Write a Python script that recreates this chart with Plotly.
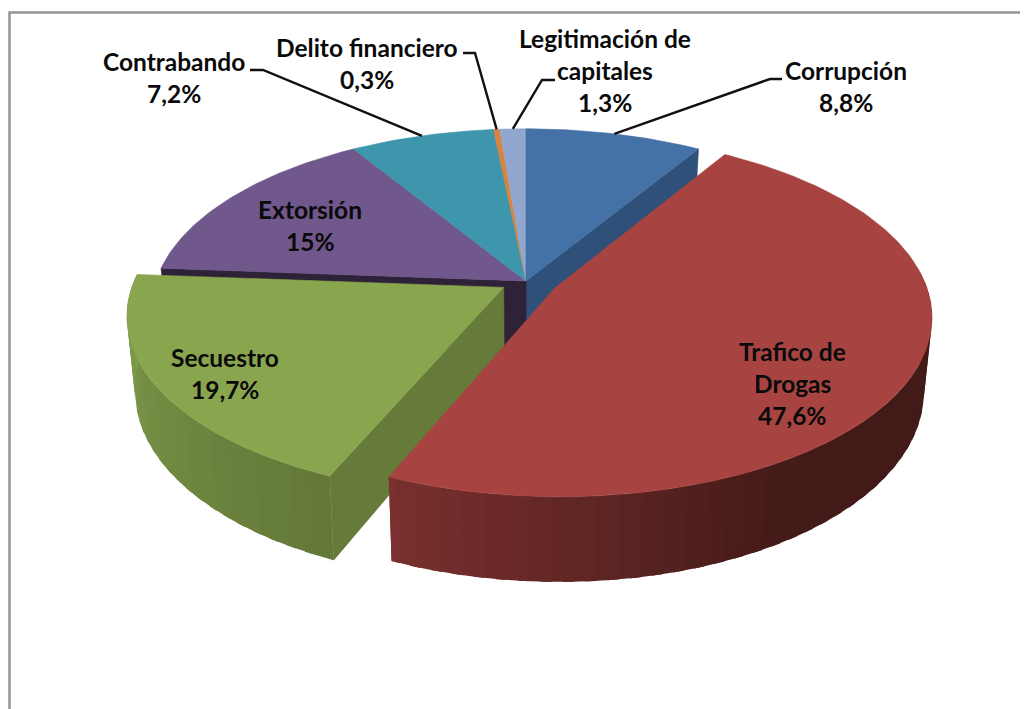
import math
import plotly.graph_objects as go

# ---- data ----
categories = ["Corrupción", "Trafico de Drogas", "Secuestro", "Extorsión",
              "Contrabando", "Delito financiero", "Legitimación de capitales"]
values = [8.8, 47.6, 19.7, 15, 7.2, 0.3, 1.3]
pulls = [0, 0.087, 0.07, 0, 0, 0, 0]
top_colors = ["#4471a6", "#a74442", "#89a54e", "#70578c", "#3e96ad", "#d8843c", "#92a7cf"]
wall_colors = ["#2f5078", None, "#667a3a", "#2e2238", None, None, None]
label_lines = [["Corrupción"], ["Trafico de", "Drogas"], ["Secuestro"], ["Extorsión"],
               ["Contrabando"], ["Delito financiero"], ["Legitimación de", "capitales"]]

# ---- projection of the tilted disc ----
CX, CY = 526, 281
A, B = 370, 175
K = 0.15
H = 72
BOTTOM_X = 0.98


def project(X, Z, bottom=False):
    s = 1 + K * Z
    x = A * X / s
    y = -B * Z / s
    if bottom:
        return CX + x * BOTTOM_X, CY + y + H / s
    return CX + x, CY + y


def unit(deg):
    r = math.radians(deg)
    return math.sin(r), math.cos(r)


starts, ends = [], []
acc = 0.0
total = sum(values)
for v in values:
    starts.append(acc / total * 360)
    acc += v
    ends.append(acc / total * 360)


def offset(i):
    ux, uz = unit((starts[i] + ends[i]) / 2)
    return ux * pulls[i], uz * pulls[i]


def rim(i, bottom=False, step=1.0):
    ox, oz = offset(i)
    n = max(2, int((ends[i] - starts[i]) / step))
    pts = []
    for j in range(n + 1):
        d = starts[i] + (ends[i] - starts[i]) * j / n
        ux, uz = unit(d)
        pts.append(project(ox + ux, oz + uz, bottom))
    return pts


fig = go.Figure()


def poly(pts, color, width=0.6):
    xs = [p[0] for p in pts] + [pts[0][0]]
    ys = [p[1] for p in pts] + [pts[0][1]]
    fig.add_trace(go.Scatter(x=xs, y=ys, mode="lines", fill="toself", fillcolor=color,
                             line=dict(color=color, width=width),
                             hoverinfo="skip", showlegend=False))


def top(i):
    ox, oz = offset(i)
    poly([project(ox, oz)] + rim(i), top_colors[i])


def wall(i, deg):
    ox, oz = offset(i)
    ux, uz = unit(deg)
    poly([project(ox, oz), project(ox + ux, oz + uz),
          project(ox + ux, oz + uz, True), project(ox, oz, True)], wall_colors[i])


def lerp_color(stops, d):
    for (d0, c0), (d1, c1) in zip(stops, stops[1:]):
        if d0 <= d <= d1:
            t = (d - d0) / (d1 - d0)
            rgb = [round(a + (b - a) * t) for a, b in zip(c0, c1)]
            return "rgb(%d,%d,%d)" % tuple(rgb)
    return "rgb(%d,%d,%d)" % tuple(stops[-1][1] if d > stops[-1][0] else stops[0][1])


red_side = [(125, (66, 26, 24)), (150, (68, 27, 25)), (203, (122, 48, 46))]
green_side = [(203, (99, 120, 56)), (274, (128, 157, 76))]


def side(i, stops, step=3.0):
    ox, oz = offset(i)
    d = max(starts[i], 85)
    while d < ends[i]:
        e = min(d + step, ends[i])
        e2 = min(e + step / 2, ends[i])  # overlap the next band so no seam shows
        n = 4
        top_pts, bot_pts = [], []
        for j in range(n + 1):
            u = unit(d + (e2 - d) * j / n)
            top_pts.append(project(ox + u[0], oz + u[1]))
            bot_pts.append(project(ox + u[0], oz + u[1], True))
        poly(top_pts + bot_pts[::-1], lerp_color(stops, (d + e) / 2), width=0)
        d = e


# back group
wall(0, ends[0])
wall(3, starts[3])
for i in (3, 4, 5, 6, 0):
    top(i)
# pulled green slice
side(2, green_side)
wall(2, ends[1])
top(2)
# pulled red slice
side(1, red_side)
top(1)

# ---- labels ----
fmt = lambda v: f"{v:g}".replace(".", ",") + "%"
label_pos = {0: (846, 70), 1: (792, 351), 2: (225, 357), 3: (310, 209),
             4: (174, 61.5), 5: (367, 47), 6: (605, 38)}
LINE = 32.3
annotations = []
for i, (lx, ly) in label_pos.items():
    for n, t in enumerate(label_lines[i] + [fmt(values[i])]):
        annotations.append(dict(x=lx, y=ly + n * LINE, text=t, showarrow=False,
                                xref="x", yref="y", xanchor="center", yanchor="middle",
                                font=dict(family="Lato", size=24.5, color="#0a0a0a",
                                          weight="bold")))

# ---- leader lines ----
elbows = {0: [(782, 79), (770, 79)], 4: [(250, 70), (263, 70)],
          5: [(463, 53), (475, 53)], 6: [(555, 80), (542, 80)]}
for i, pts in elbows.items():
    ux, uz = unit((starts[i] + ends[i]) / 2)
    end = project(ux, uz)
    xs = [p[0] for p in pts] + [end[0]]
    ys = [p[1] for p in pts] + [end[1]]
    fig.add_trace(go.Scatter(x=xs, y=ys, mode="lines", line=dict(color="#111111", width=2.4),
                             hoverinfo="skip", showlegend=False))

# The page keeps an 8 px body margin, so the axes start at 8 to stay in window pixels.
fig.update_layout(
    width=1020, height=701, margin=dict(l=0, r=0, t=0, b=0),
    paper_bgcolor="white", plot_bgcolor="white",
    xaxis=dict(range=[8, 1028], visible=False, fixedrange=True),
    yaxis=dict(range=[709, 8], visible=False, fixedrange=True),
    annotations=annotations,
    shapes=[dict(type="rect", xref="x", yref="y", layer="below",
                 x0=9.5, x1=1040, y0=12.5, y1=730,
                 line=dict(color="#949494", width=2.5))],
)
fig.write_html("out.html")
